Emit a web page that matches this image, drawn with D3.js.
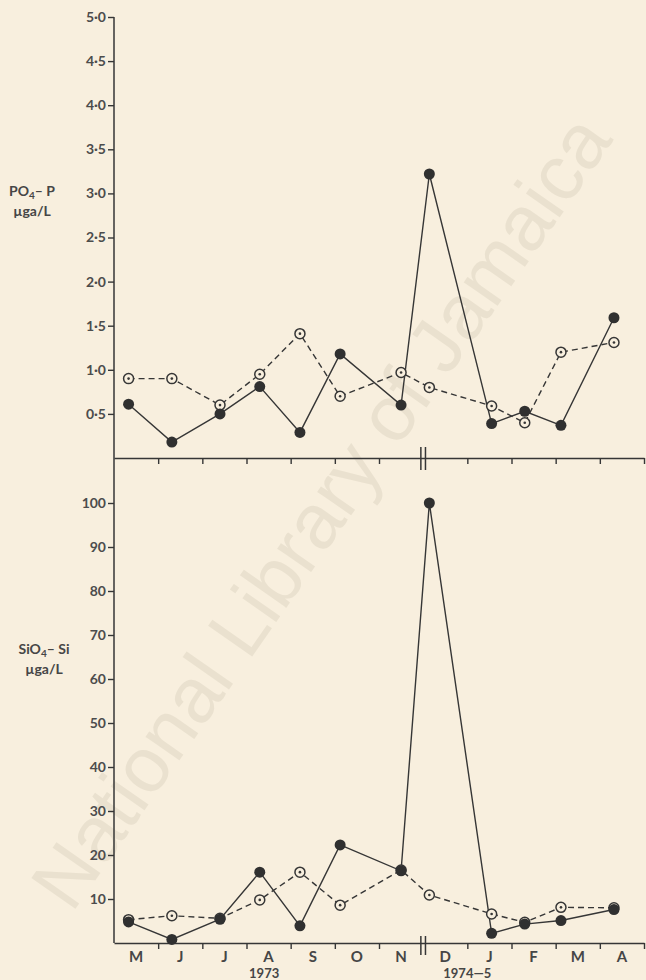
<!DOCTYPE html>
<html>
<head>
<meta charset="utf-8">
<script src="https://cdn.jsdelivr.net/npm/d3@7"></script>
<style>
	html, body { margin: 0; padding: 0; background: #f8efde; }
	svg { display: block; }
	text { font-family: Lato, 'Open Sans', sans-serif; fill: #464646; font-weight: 700; }
</style>
</head>
<body>
<div id="chart"></div>
<script>
// months on the axis, May 1973 .. Nov 1973 | Dec 1974 .. Apr 1975
const months = ['M', 'J', 'J', 'A', 'S', 'O', 'N', 'D', 'J', 'F', 'M', 'A'];
// sampling position, in months from the start of the axis
const sampleMonth = [0.33, 1.31, 2.4, 3.3, 4.21, 5.12, 6.5, 7.14, 8.55, 9.3, 10.12, 11.32];

// PO4-P, ug-at/L
const po4Filled = [0.61, 0.18, 0.5, 0.81, 0.29, 1.18, 0.6, 3.22, 0.39, 0.53, 0.37, 1.59];
const po4Open = [0.9, 0.9, 0.6, 0.95, 1.41, 0.7, 0.97, 0.8, 0.59, 0.4, 1.2, 1.31];

// SiO4-Si, ug-at/L
const sio4Filled = [4.8, 0.8, 5.4, 16.1, 3.9, 22.3, 16.4, 100, 2.2, 4.3, 5.1, 7.6];
const sio4Open = [5.3, 6.2, 5.6, 9.8, 16.1, 8.6, 16.6, 10.9, 6.6, 4.7, 8.1, 8.0];

const po4Ticks = [0.5, 1, 1.5, 2, 2.5, 3, 3.5, 4, 4.5, 5];
const sio4Ticks = [10, 20, 30, 40, 50, 60, 70, 80, 90, 100];
const yearLabels = [{ text: '1973', at: 3.4 }, { text: '1974—5', at: 8 }];

const INK = '#363636';
const PAPER = '#f8efde';
const width = 646;
const height = 980;
const BREAK = 7;

const $svg = d3.select('#chart').append('svg')
	.attr('width', width)
	.attr('height', height);

$svg.append('rect').attr('width', width).attr('height', height).attr('fill', PAPER);

// faint library watermark over the scan
$svg.append('text')
	.attr('transform', 'translate(326,515) rotate(-55)')
	.attr('text-anchor', 'middle')
	.attr('dominant-baseline', 'middle')
	.style('font-family', "'Liberation Sans', sans-serif")
	.style('font-weight', 400)
	.style('font-size', '78px')
	.style('fill', '#eae1cf')
	.text('National Library of Jamaica');

const x = d3.scaleLinear().domain([0, 12]).range([114, 644]);
const yTop = d3.scaleLinear().domain([0, 5]).range([458, 17]);
const yBot = d3.scaleLinear().domain([0, 100]).range([943, 503]);

const fmt = v => d3.format('.1f')(v).replace('.', '·');

function drawYAxis(scale, ticks, format) {
	const g = $svg.append('g')
		.attr('transform', `translate(${x(0)},0)`)
		.call(d3.axisLeft(scale).tickValues(ticks).tickSize(6).tickSizeOuter(0).tickPadding(2).tickFormat(format));
	g.select('.domain').remove();
	g.selectAll('line').attr('stroke', INK).attr('stroke-width', 1.4);
	g.selectAll('text')
		.style('font-family', 'Lato, sans-serif')
		.style('font-weight', 700)
		.style('font-size', '14px')
		.style('fill', '#4c4c4c');
}

function drawXAxis(y0, breakTop) {
	const ticks = d3.range(1, 13).filter(d => d !== BREAK);
	const g = $svg.append('g')
		.attr('transform', `translate(0,${y0})`)
		.call(d3.axisBottom(x).tickValues(ticks).tickSize(6).tickSizeOuter(0).tickFormat(''));
	g.select('.domain').attr('stroke', INK).attr('stroke-width', 1.4);
	g.selectAll('line').attr('stroke', INK).attr('stroke-width', 1.4);

	// the two bars that mark the gap in time
	[-2.3, 2.3].forEach(dx => {
		g.append('line')
			.attr('x1', x(BREAK) + dx).attr('x2', x(BREAK) + dx)
			.attr('y1', breakTop).attr('y2', 12)
			.attr('stroke', INK).attr('stroke-width', 1.5);
	});
}

function drawSeries(scale, values, dashed) {
	const pts = values.map((v, i) => ({ m: sampleMonth[i], v }));
	const line = d3.line().x(d => x(d.m)).y(d => scale(d.v));

	$svg.append('path')
		.datum(pts)
		.attr('d', line)
		.attr('fill', 'none')
		.attr('stroke', INK)
		.attr('stroke-width', 1.4)
		.attr('stroke-dasharray', dashed ? '6,4' : null);

	return pts;
}

function drawOpen(scale, pts) {
	const g = $svg.append('g');
	g.selectAll('circle.ring')
		.data(pts)
		.join('circle')
		.attr('class', 'ring')
		.attr('cx', d => x(d.m))
		.attr('cy', d => scale(d.v))
		.attr('r', 5)
		.attr('fill', PAPER)
		.attr('stroke', INK)
		.attr('stroke-width', 1.5);
	g.selectAll('circle.dot')
		.data(pts)
		.join('circle')
		.attr('class', 'dot')
		.attr('cx', d => x(d.m))
		.attr('cy', d => scale(d.v))
		.attr('r', 1.3)
		.attr('fill', INK);
}

function drawFilled(scale, pts) {
	$svg.append('g').selectAll('circle')
		.data(pts)
		.join('circle')
		.attr('cx', d => x(d.m))
		.attr('cy', d => scale(d.v))
		.attr('r', 5.5)
		.attr('fill', '#303030');
}

function axisTitle(first, sub, rest, second, xPos, yPos) {
	const t = $svg.append('text')
		.attr('x', xPos)
		.attr('y', yPos)
		.attr('text-anchor', 'middle')
		.style('font-size', '14px');
	t.append('tspan').text(first);
	t.append('tspan').attr('dy', 3).style('font-size', '10px').text(sub);
	t.append('tspan').attr('dy', -3).text(rest);

	$svg.append('text')
		.attr('x', xPos)
		.attr('y', yPos + 20)
		.attr('text-anchor', 'middle')
		.style('font-size', '14px')
		.text(second);
}

// shared vertical axis
$svg.append('line')
	.attr('x1', x(0)).attr('x2', x(0))
	.attr('y1', yTop(5)).attr('y2', yBot(0))
	.attr('stroke', INK).attr('stroke-width', 1.5);

drawYAxis(yTop, po4Ticks, fmt);
drawYAxis(yBot, sio4Ticks, d3.format('d'));
drawXAxis(yTop(0), -11);
drawXAxis(yBot(0), -7);

const topOpen = drawSeries(yTop, po4Open, true);
const topFilled = drawSeries(yTop, po4Filled, false);
drawOpen(yTop, topOpen);
drawFilled(yTop, topFilled);

const botOpen = drawSeries(yBot, sio4Open, true);
const botFilled = drawSeries(yBot, sio4Filled, false);
drawOpen(yBot, botOpen);
drawFilled(yBot, botFilled);

axisTitle('PO', '4', '– P', 'µga/L', 32, 196);
axisTitle('SiO', '4', '– Si', 'µga/L', 44, 654);

// month letters under the lower axis
$svg.append('g').selectAll('text')
	.data(months)
	.join('text')
	.attr('x', (d, i) => x(i + 0.5))
	.attr('y', 962)
	.attr('text-anchor', 'middle')
	.style('font-size', '15px')
	.text(d => d);

$svg.append('g').selectAll('text')
	.data(yearLabels)
	.join('text')
	.attr('x', d => x(d.at))
	.attr('y', 978)
	.attr('text-anchor', 'middle')
	.style('font-size', '13px')
	.text(d => d.text);
</script>
</body>
</html>
